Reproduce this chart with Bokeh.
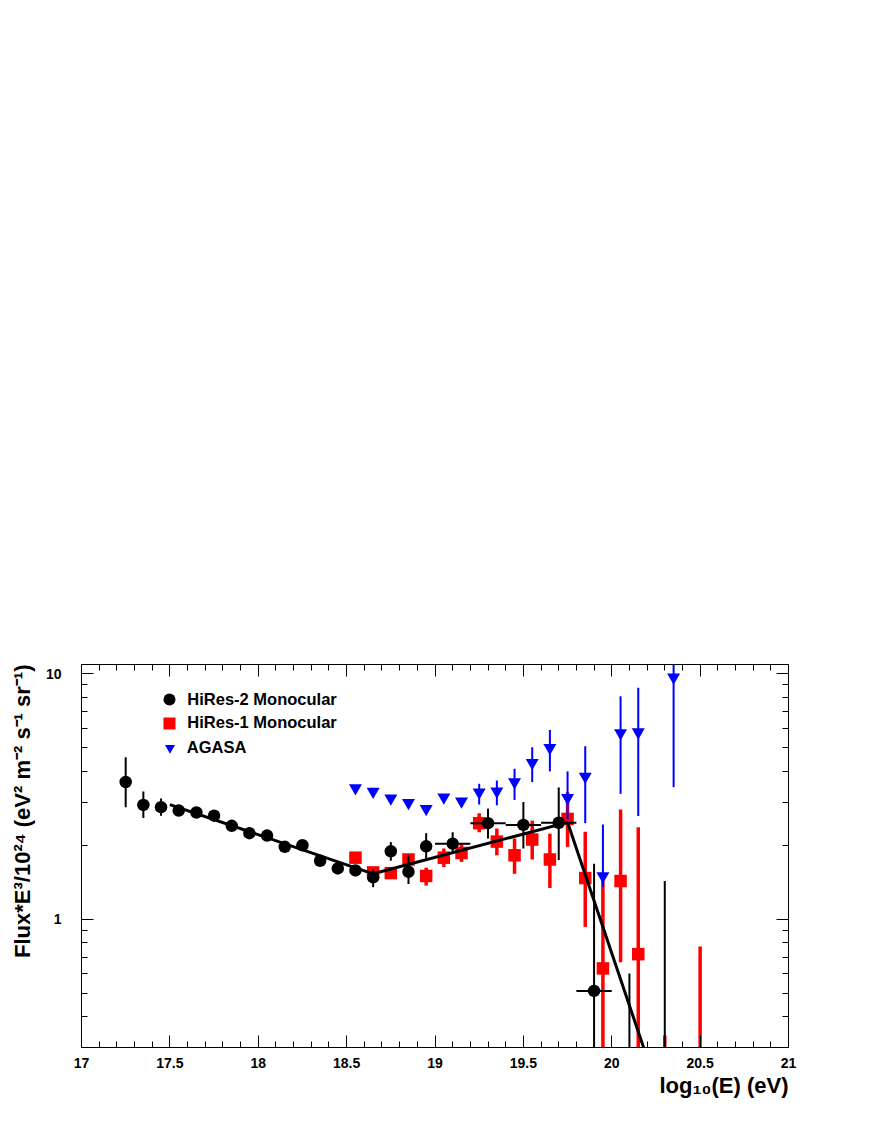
from bokeh.plotting import figure
from bokeh.models import (FixedTicker, LinearAxis, LogAxis, Range1d, Legend, LegendItem, Title,
                          CustomJSTickFormatter, ColumnDataSource)
from bokeh.embed import file_html
from bokeh.resources import INLINE

# ---------------- data ----------------
# HiRes-2 Monocular (black circles)
h2_x    = [17.25, 17.35, 17.45, 17.55, 17.65, 17.75, 17.85, 17.95, 18.05, 18.15, 18.25, 18.35, 18.45,
           18.55, 18.65, 18.75, 18.85, 18.95, 19.10, 19.30, 19.50, 19.70, 19.90, 20.10, 20.30]
h2_y    = [3.62, 2.92, 2.86, 2.77, 2.72, 2.64, 2.40, 2.24, 2.19, 1.97, 2.00, 1.73, 1.61,
           1.58, 1.48, 1.89, 1.56, 1.98, 2.03, 2.46, 2.42, 2.47, 0.51, 0.20, 0.20]
h2_hi   = [4.57, 3.31, 3.10, 2.84, 2.79, 2.70, 2.46, 2.30, 2.25, 2.03, 2.06, 1.79, 1.67,
           1.66, 1.60, 2.06, 1.82, 2.24, 2.26, 2.82, 3.00, 3.44, 1.68, 0.60, 1.43]
h2_lo   = [2.86, 2.58, 2.64, 2.70, 2.65, 2.58, 2.34, 2.18, 2.13, 1.91, 1.94, 1.67, 1.55,
           1.50, 1.35, 1.73, 1.39, 1.76, 1.85, 2.13, 1.94, 1.74, 0.01, 0.01, 0.01]
h2_xlo  = [17.25, 17.35, 17.45, 17.55, 17.65, 17.75, 17.85, 17.95, 18.05, 18.15, 18.25, 18.35, 18.45,
           18.55, 18.65, 18.75, 18.85, 18.95, 19.00, 19.20, 19.40, 19.60, 19.80, 20.00, 20.20]
h2_xhi  = [17.25, 17.35, 17.45, 17.55, 17.65, 17.75, 17.85, 17.95, 18.05, 18.15, 18.25, 18.35, 18.45,
           18.55, 18.65, 18.75, 18.85, 18.95, 19.20, 19.40, 19.60, 19.80, 20.00, 20.20, 20.40]

# HiRes-1 Monocular (red squares)
h1_x  = [18.55, 18.65, 18.75, 18.85, 18.95, 19.05, 19.15, 19.25, 19.35, 19.45, 19.55, 19.65,
         19.75, 19.85, 19.95, 20.05, 20.15, 20.30, 20.50]
h1_y  = [1.78, 1.55, 1.54, 1.75, 1.50, 1.78, 1.86, 2.46, 2.07, 1.82, 2.11, 1.75,
         2.56, 1.47, 0.63, 1.43, 0.72, 0.10, 0.10]
h1_hi = [1.85, 1.62, 1.61, 1.84, 1.62, 1.94, 2.02, 2.70, 2.34, 2.13, 2.52, 2.23,
         3.29, 2.27, 1.45, 2.80, 2.37, 0.336, 0.774]
h1_lo = [1.71, 1.48, 1.47, 1.66, 1.37, 1.63, 1.71, 2.26, 1.82, 1.53, 1.75, 1.34,
         1.97, 0.93, 0.01, 0.668, 0.01, 0.01, 0.01]

# AGASA (blue down triangles)
ag_x  = [18.55, 18.65, 18.75, 18.85, 18.95, 19.05, 19.15, 19.25, 19.35, 19.45, 19.55, 19.65,
         19.75, 19.85, 19.95, 20.05, 20.15, 20.35]
ag_y  = [3.42, 3.31, 3.11, 2.98, 2.82, 3.14, 3.02, 3.29, 3.32, 3.62, 4.34, 4.99,
         3.12, 3.81, 1.50, 5.73, 5.78, 9.68]
ag_hi = [3.50, 3.38, 3.18, 3.05, 2.89, 3.21, 3.12, 3.56, 3.67, 4.10, 5.02, 5.90,
         4.00, 5.06, 2.43, 8.09, 8.77, 14.0]
ag_lo = [3.34, 3.24, 3.04, 2.91, 2.75, 3.07, 2.93, 2.93, 2.91, 3.06, 3.62, 4.00,
         2.55, 2.46, 1.35, 3.24, 2.63, 3.45]

# broken power-law fit
fit_x = [17.50, 18.65, 19.75, 20.25]
fit_y = [2.93, 1.53, 2.48, 0.213]

x_major = [17, 17.5, 18, 18.5, 19, 19.5, 20, 20.5, 21]
x_minor = [17 + 0.1 * i for i in range(41)]
y_major = [1, 10]
y_minor = [0.3, 0.4, 0.5, 0.6, 0.7, 0.8, 0.9, 2, 3, 4, 5, 6, 7, 8, 9]

x_title = "log\u2081\u2080(E) (eV)"
y_title = "Flux*E\u00b3/10\u00b2\u2074 (eV\u00b2 m\u207b\u00b2 s\u207b\u00b9 sr\u207b\u00b9)"
names = ["HiRes-2 Monocular", "HiRes-1 Monocular", "AGASA"]

FONT = "Liberation Sans"

# ---------------- figure ----------------
p = figure(frame_width=707, frame_height=383, x_axis_type="linear", y_axis_type="log",
           x_range=Range1d(17, 21), y_range=Range1d(0.3, 10.9),
           output_backend="svg", toolbar_location=None,
           min_border_left=81, min_border_right=20, min_border_top=664, min_border_bottom=56)
p.xgrid.visible = False
p.ygrid.visible = False
p.outline_line_color = "black"
p.outline_line_width = 1
p.background_fill_color = "white"
p.border_fill_color = "white"

fmt = CustomJSTickFormatter(code="return (Math.round(tick*10)/10).toString();")
blank = CustomJSTickFormatter(code="return '';")

def style_axis(ax, ticker, show_labels):
    ax.ticker = ticker
    ax.major_tick_in = 12
    ax.major_tick_out = 0
    ax.minor_tick_in = 6
    ax.minor_tick_out = 0
    ax.major_tick_line_color = "black"
    ax.minor_tick_line_color = "black"
    ax.axis_line_color = "black"
    ax.major_label_text_font = FONT
    ax.major_label_text_font_style = "bold"
    ax.major_label_text_color = "black"
    ax.major_label_text_font_size = "14px"
    if show_labels:
        ax.formatter = fmt
    else:
        ax.formatter = blank
        ax.major_label_standoff = 0

xa = p.xaxis[0]
style_axis(xa, FixedTicker(ticks=x_major, minor_ticks=x_minor), True)
xa.major_label_standoff = 10

ya = p.yaxis[0]
style_axis(ya, FixedTicker(ticks=y_major, minor_ticks=y_minor), True)
ya.major_label_standoff = 20

top_ax = LinearAxis()
style_axis(top_ax, FixedTicker(ticks=x_major, minor_ticks=x_minor), False)
p.add_layout(top_ax, "above")
right_ax = LogAxis()
style_axis(right_ax, FixedTicker(ticks=y_major, minor_ticks=y_minor), False)
p.add_layout(right_ax, "right")

# axis titles right-aligned at the axis ends (ROOT style)
p.add_layout(Title(text=x_title, align="right", text_font=FONT, text_font_style="bold",
                   text_font_size="22px", text_color="black", standoff=1), "below")
p.add_layout(Title(text=y_title, align="right", text_font=FONT, text_font_style="bold",
                   text_font_size="22px", text_color="black", standoff=15), "left")

# ---------------- data sources ----------------
s_h2 = ColumnDataSource(dict(x=h2_x, y=h2_y, lo=h2_lo, hi=h2_hi, xlo=h2_xlo, xhi=h2_xhi))
s_h1 = ColumnDataSource(dict(x=h1_x, y=h1_y, lo=h1_lo, hi=h1_hi))
s_ag = ColumnDataSource(dict(x=ag_x, y=ag_y, lo=ag_lo, hi=ag_hi))

# HiRes-1 (red)
p.segment(x0="x", y0="lo", x1="x", y1="hi", source=s_h1, line_color="#ff0000", line_width=3.5)
r_h1 = p.scatter("x", "y", source=s_h1, marker="square", size=12.5,
                 fill_color="#ff0000", line_color="#ff0000", line_width=0)

# HiRes-2 (black)
p.segment(x0="x", y0="lo", x1="x", y1="hi", source=s_h2, line_color="black", line_width=2)
p.segment(x0="xlo", y0="y", x1="xhi", y1="y", source=s_h2, line_color="black", line_width=2)
r_h2 = p.scatter("x", "y", source=s_h2, marker="circle", size=12.5,
                 fill_color="black", line_color="black", line_width=0)

# AGASA (blue)
p.segment(x0="x", y0="lo", x1="x", y1="hi", source=s_ag, line_color="#0000ff", line_width=2)
r_ag = p.scatter("x", "y", source=s_ag, marker="inverted_triangle", size=13,
                 fill_color="#0000ff", line_color="#0000ff", line_width=0)

# fit line
p.line(fit_x, fit_y, line_color="black", line_width=3)

# legend: one single-row legend per entry for exact row spacing
leg_rows = [(r_h2, 30, 332.7), (r_h1, 30, 309.3), (r_ag, 25, 286.8)]
for (rend, gsz, vy), name in zip(leg_rows, names):
    lg = Legend(items=[LegendItem(label=name, renderers=[rend])],
                location=(88.3 - gsz / 2.0, vy), glyph_width=gsz, glyph_height=gsz,
                label_height=gsz, spacing=0, padding=0, margin=0,
                label_standoff=int(18 - gsz / 2.0),
                border_line_color=None, background_fill_alpha=0,
                label_text_font=FONT, label_text_font_style="bold",
                label_text_font_size="16.5px", label_text_color="black")
    p.add_layout(lg)

open("out.html", "w").write(file_html(p, INLINE))
